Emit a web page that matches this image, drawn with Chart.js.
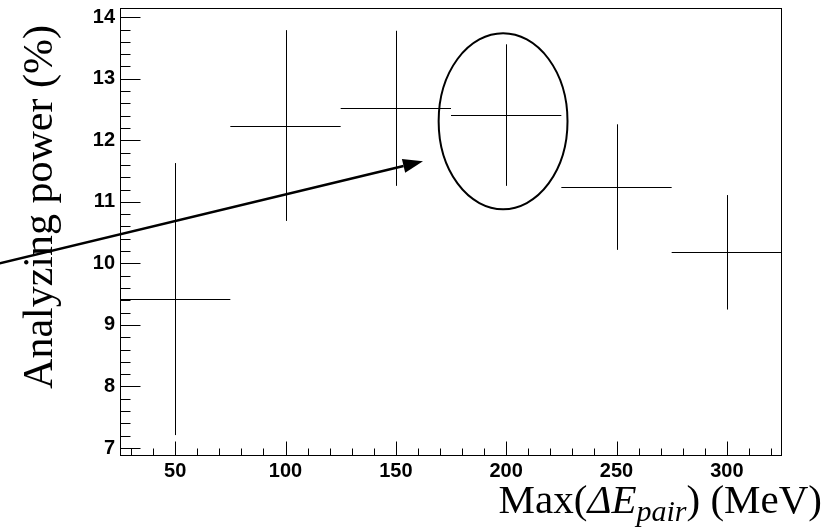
<!DOCTYPE html>
<html><head><meta charset="utf-8">
<script src="https://cdn.jsdelivr.net/npm/chart.js@4.4.0/dist/chart.umd.min.js"></script>
<style>html,body{margin:0;padding:0;background:#fff;}canvas{display:block;}</style>
</head><body>
<canvas id="c" width="829" height="532"></canvas>
<script>
// ---- data ----
const energyCuts     = [50, 100, 150, 200, 250, 300];          // Max(ΔE_pair) bin centres (MeV)
const binHalfWidths  = [25, 25, 25, 25, 25, 25];               // horizontal error (MeV)
const analyzingPower = [9.42, 12.24, 12.52, 12.41, 11.24, 10.18]; // %
const powerErrors    = [2.21, 1.55, 1.26, 1.15, 1.02, 0.93];   // %
const xTickLabels    = [50, 100, 150, 200, 250, 300];
const yTickLabels    = [7, 8, 9, 10, 11, 12, 13, 14];
const xRange = [25, 325];
const yRange = [6.87, 14.15];
// annotations (data coordinates)
const arrowFrom     = [-29.5, 10.0];
const arrowTo       = [162.3, 11.66];
const ellipseCenter = [198.6, 12.31];
const ellipseRadii  = [29.2, 1.43];

const yTitle = 'Analyzing power (%)';
const xTitleParts = [
  {t: 'Max(', italic: false, sub: false},
  {t: 'Δ', italic: true, sub: false},
  {t: 'E', italic: true, sub: false},
  {t: 'pair', italic: true, sub: true},
  {t: ') (MeV)', italic: false, sub: false}
];

const crisp = v => Math.round(v) + 0.5;

const rootStyle = {
  id: 'rootStyle',
  afterDraw(chart) {
    const {ctx, chartArea: a, scales: {x, y}} = chart;
    ctx.save();
    ctx.strokeStyle = '#000';
    ctx.lineWidth = 1;
    // error bars
    ctx.beginPath();
    energyCuts.forEach((e, i) => {
      const py = crisp(y.getPixelForValue(analyzingPower[i]));
      ctx.moveTo(x.getPixelForValue(e - binHalfWidths[i]), py);
      ctx.lineTo(x.getPixelForValue(e + binHalfWidths[i]), py);
      const px = crisp(x.getPixelForValue(e));
      ctx.moveTo(px, y.getPixelForValue(analyzingPower[i] + powerErrors[i]));
      ctx.lineTo(px, y.getPixelForValue(analyzingPower[i] - powerErrors[i]));
    });
    ctx.stroke();
    // frame
    const L = crisp(a.left), R = crisp(a.right - 1), T = crisp(a.top), B = crisp(a.bottom - 1);
    ctx.strokeRect(L, T, R - L, B - T);
    // y ticks (inside)
    ctx.beginPath();
    for (let k = Math.ceil(yRange[0] * 5); k <= Math.floor(yRange[1] * 5); k++) {
      const v = k / 5;
      const major = Math.abs(v - Math.round(v)) < 1e-6;
      const py = crisp(y.getPixelForValue(v));
      ctx.moveTo(L, py); ctx.lineTo(L + (major ? 20 : 10), py);
    }
    // x ticks (inside)
    for (let v = Math.ceil(xRange[0] / 10) * 10; v <= xRange[1]; v += 10) {
      const major = v % 50 === 0;
      const px = crisp(x.getPixelForValue(v));
      ctx.moveTo(px, B); ctx.lineTo(px, B - (major ? 14 : 7));
    }
    ctx.stroke();
    // ellipse
    ctx.lineWidth = 2;
    ctx.beginPath();
    const cx = x.getPixelForValue(ellipseCenter[0]), cy = y.getPixelForValue(ellipseCenter[1]);
    const rx = Math.abs(x.getPixelForValue(ellipseCenter[0] + ellipseRadii[0]) - cx);
    const ry = Math.abs(y.getPixelForValue(ellipseCenter[1] + ellipseRadii[1]) - cy);
    ctx.ellipse(cx, cy, rx, ry, 0, 0, Math.PI * 2);
    ctx.stroke();
    // arrow
    const x0 = x.getPixelForValue(arrowFrom[0]), y0 = y.getPixelForValue(arrowFrom[1]);
    const x1 = x.getPixelForValue(arrowTo[0]), y1 = y.getPixelForValue(arrowTo[1]);
    const ang = Math.atan2(y1 - y0, x1 - x0);
    const hl = 20, hw = 7;
    const bx = x1 - hl * Math.cos(ang), by = y1 - hl * Math.sin(ang);
    ctx.lineWidth = 2.5;
    ctx.beginPath(); ctx.moveTo(x0, y0); ctx.lineTo(bx, by); ctx.stroke();
    ctx.fillStyle = '#000';
    ctx.beginPath();
    ctx.moveTo(x1, y1);
    ctx.lineTo(bx - hw * Math.sin(ang), by + hw * Math.cos(ang));
    ctx.lineTo(bx + hw * Math.sin(ang), by - hw * Math.cos(ang));
    ctx.closePath(); ctx.fill();
    // y title
    ctx.fillStyle = '#000';
    ctx.save();
    ctx.translate(a.left - 68, 207);
    ctx.rotate(-Math.PI / 2);
    ctx.font = '42px "Liberation Serif"';
    ctx.textAlign = 'center';
    ctx.textBaseline = 'alphabetic';
    ctx.fillText(yTitle, 0, 0);
    ctx.restore();
    // x title
    const fontOf = p => (p.italic ? 'italic ' : '') + (p.sub ? '30px' : '41px') + ' "Liberation Serif"';
    let total = 0;
    xTitleParts.forEach(p => { ctx.font = fontOf(p); p.w = ctx.measureText(p.t).width; total += p.w; });
    let tx = 822 - total;
    const base = 513;
    ctx.textAlign = 'left';
    ctx.textBaseline = 'alphabetic';
    xTitleParts.forEach(p => {
      ctx.font = fontOf(p);
      ctx.fillText(p.t, tx, p.sub ? base + 8 : base);
      tx += p.w;
    });
    ctx.restore();
  }
};

const noPad = s => { s.paddingTop = 0; s.paddingBottom = 0; s.paddingLeft = 0; s.paddingRight = 0; };

new Chart(document.getElementById('c'), {
  type: 'scatter',
  data: {
    datasets: [{
      label: 'Analyzing power',
      data: energyCuts.map((e, i) => ({x: e, y: analyzingPower[i]})),
      pointRadius: 0,
      showLine: false
    }]
  },
  options: {
    responsive: false,
    animation: false,
    events: [],
    layout: {padding: {left: 0, right: 47, top: 8, bottom: 0}},
    plugins: {legend: {display: false}, tooltip: {enabled: false}},
    scales: {
      x: {
        type: 'linear', min: xRange[0], max: xRange[1],
        grid: {display: false, drawTicks: false},
        border: {display: false},
        afterBuildTicks: s => { s.ticks = xTickLabels.map(v => ({value: v})); },
        afterFit: s => { s.height = 76; noPad(s); },
        ticks: {color: '#000', padding: 3, maxRotation: 0, autoSkip: false,
                font: {family: 'Liberation Sans', weight: 'bold', size: 20}}
      },
      y: {
        type: 'linear', min: yRange[0], max: yRange[1],
        grid: {display: false, drawTicks: false},
        border: {display: false},
        afterBuildTicks: s => { s.ticks = yTickLabels.map(v => ({value: v})); },
        afterFit: s => { s.width = 120; noPad(s); },
        ticks: {color: '#000', padding: 5, autoSkip: false,
                font: {family: 'Liberation Sans', weight: 'bold', size: 20}}
      }
    }
  },
  plugins: [rootStyle]
});
</script>
</body></html>
